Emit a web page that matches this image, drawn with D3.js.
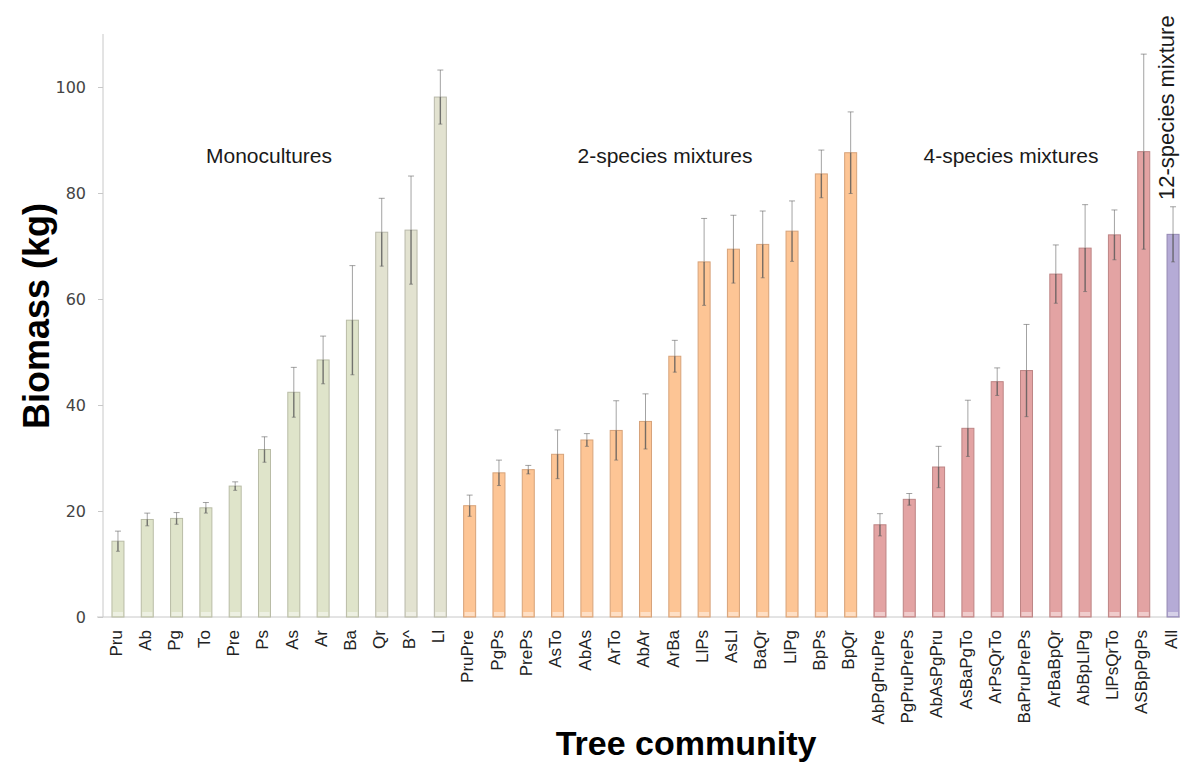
<!DOCTYPE html>
<html>
<head>
<meta charset="utf-8">
<script src="https://cdn.jsdelivr.net/npm/d3@7"></script>
<style>
  body { margin: 0; background: #fff; }
  text { font-family: "Liberation Sans", Arial, sans-serif; }
</style>
</head>
<body>
<div id="chart"></div>
<script>
const width = 1180,
    height = 763,
    margin = ({ top: 34, right: 0, bottom: 146, left: 103 });

// tree communities, left to right
const communities = ["Pru", "Ab", "Pg", "To", "Pre", "Ps", "As", "Ar", "Ba", "Qr", "B^", "Ll",
    "PruPre", "PgPs", "PrePs", "AsTo", "AbAs", "ArTo", "AbAr", "ArBa", "LlPs", "AsLl", "BaQr", "LlPg", "BpPs", "BpQr",
    "AbPgPruPre", "PgPruPrePs", "AbAsPgPru", "AsBaPgTo", "ArPsQrTo", "BaPruPrePs", "ArBaBpQr", "AbBpLlPg", "LlPsQrTo", "ASBpPgPs",
    "All"];

// mean biomass (kg)
const biomass = [14.3, 18.4, 18.6, 20.6, 24.7, 31.6, 42.4, 48.5, 56.0, 72.6, 73.0, 98.1,
    21.0, 27.2, 27.8, 30.7, 33.4, 35.2, 36.9, 49.2, 67.0, 69.4, 70.3, 72.8, 83.6, 87.6,
    17.4, 22.2, 28.3, 35.6, 44.4, 46.5, 64.7, 69.6, 72.1, 87.8,
    72.2];

// error (+/- kg)
const errors = [1.9, 1.2, 1.1, 1.0, 0.8, 2.4, 4.7, 4.5, 10.3, 6.4, 10.2, 5.1,
    2.0, 2.4, 0.8, 4.6, 1.2, 5.6, 5.2, 3.0, 8.2, 6.4, 6.3, 5.7, 4.5, 7.7,
    2.1, 1.1, 3.9, 5.3, 2.6, 8.7, 5.5, 8.2, 4.7, 18.4,
    5.2];

// group of each community
const groups = ["mono", "mono", "mono", "mono", "mono", "mono", "mono", "mono", "mono", "monoB", "monoB", "monoB",
    "two", "two", "two", "two", "two", "two", "two", "two", "two", "two", "two", "two", "two", "two",
    "four", "four", "four", "four", "four", "four", "four", "four", "four", "four",
    "twelve"];

const groupNames = ["mono", "monoB", "two", "four", "twelve"];
const groupFills = ["#dfe4ca", "#e2e2d0", "#fdc595", "#e3a3a3", "#b5abd6"];
const groupStrokes = ["#b9bca6", "#b9b9aa", "#d7a37a", "#bd8585", "#9489b3"];

const yTicks = [0, 20, 40, 60, 80, 100];

const data = communities.map((c, i) => ({ name: c, value: biomass[i], err: errors[i], group: groups[i] }));

const svg = d3.select("#chart")
    .append("svg")
    .attr("width", width)
    .attr("height", height)
    .attr("viewBox", [0, 0, width, height]);

const x = d3.scaleBand()
    .domain(communities)
    .range([103.3, 1187.7])
    .paddingInner(0.59)
    .paddingOuter(0.295);

const y = d3.scaleLinear()
    .domain([0, 110])
    .range([617, 34]);

const fill = d3.scaleOrdinal().domain(groupNames).range(groupFills);
const stroke = d3.scaleOrdinal().domain(groupNames).range(groupStrokes);

// axes
const yAxis = svg.append("g")
    .attr("transform", "translate(" + margin.left + ",0)")
    .call(d3.axisLeft(y).tickValues(yTicks).tickSize(5).tickPadding(12));
yAxis.select(".domain").attr("stroke", "#c8c8c8").attr("d", "M0," + y(110) + "V" + y(0));
yAxis.selectAll(".tick line").attr("stroke", "#c8c8c8");
yAxis.selectAll(".tick text")
    .attr("fill", "#444")
    .style("font-family", "DejaVu Sans, Verdana, sans-serif")
    .style("font-size", "16px");

const xAxis = svg.append("g")
    .attr("transform", "translate(0," + y(0) + ")")
    .call(d3.axisBottom(x).tickSize(0).tickPadding(0));
xAxis.select(".domain").attr("stroke", "#c8c8c8").attr("d", "M97,0H1180");
xAxis.selectAll(".tick text")
    .attr("fill", "#222")
    .style("font-size", "17px")
    .attr("text-anchor", "end")
    .attr("dy", "0.22em")
    .attr("transform", "translate(0,13) rotate(-90)");

// bars
svg.append("g")
    .selectAll("rect")
    .data(data)
    .join("rect")
    .attr("x", d => x(d.name))
    .attr("y", d => y(d.value))
    .attr("width", x.bandwidth())
    .attr("height", d => y(0) - y(d.value))
    .attr("fill", d => fill(d.group))
    .attr("stroke", d => stroke(d.group))
    .attr("stroke-width", 1);

// light base of each bar
svg.append("g")
    .selectAll("rect")
    .data(data)
    .join("rect")
    .attr("x", d => x(d.name) + 1)
    .attr("y", y(0) - 5)
    .attr("width", x.bandwidth() - 2)
    .attr("height", 4)
    .attr("fill", "#fff")
    .attr("opacity", 0.45);

// error bars
const eb = svg.append("g")
    .attr("stroke", "#666")
    .attr("stroke-width", 1)
    .selectAll("g")
    .data(data)
    .join("g")
    .attr("transform", d => "translate(" + (x(d.name) + x.bandwidth() / 2) + ",0)");

eb.append("line")
    .attr("y1", d => y(d.value + d.err))
    .attr("y2", d => y(d.value))
    .attr("stroke-opacity", 0.6);
eb.append("line")
    .attr("y1", d => y(d.value))
    .attr("y2", d => y(d.value - d.err))
    .attr("stroke", "#555")
    .attr("stroke-width", 1.4)
    .attr("stroke-opacity", 0.8);
eb.append("line")
    .attr("x1", -3).attr("x2", 3)
    .attr("y1", d => y(d.value + d.err))
    .attr("y2", d => y(d.value + d.err))
    .attr("stroke-opacity", 0.6);
eb.append("line")
    .attr("x1", -2).attr("x2", 2)
    .attr("y1", d => y(d.value - d.err))
    .attr("y2", d => y(d.value - d.err))
    .attr("stroke-opacity", 0.6);

// group labels
const labels = [
    { text: "Monocultures", x: 269, y: 163 },
    { text: "2-species mixtures", x: 665, y: 163 },
    { text: "4-species mixtures", x: 1011, y: 163 }
];
svg.append("g")
    .selectAll("text")
    .data(labels)
    .join("text")
    .attr("x", d => d.x)
    .attr("y", d => d.y)
    .attr("text-anchor", "middle")
    .attr("fill", "#1a1a1a")
    .style("font-size", "21px")
    .text(d => d.text);

svg.append("text")
    .attr("transform", "translate(1174,200) rotate(-90)")
    .attr("fill", "#1a1a1a")
    .style("font-size", "22px")
    .text("12-species mixture");

// axis titles
svg.append("text")
    .attr("transform", "translate(49,316) rotate(-90)")
    .attr("text-anchor", "middle")
    .style("font-size", "36px")
    .style("font-weight", "bold")
    .text("Biomass (kg)");

svg.append("text")
    .attr("x", 686)
    .attr("y", 755)
    .attr("text-anchor", "middle")
    .style("font-size", "34px")
    .style("font-weight", "bold")
    .text("Tree community");
</script>
</body>
</html>
